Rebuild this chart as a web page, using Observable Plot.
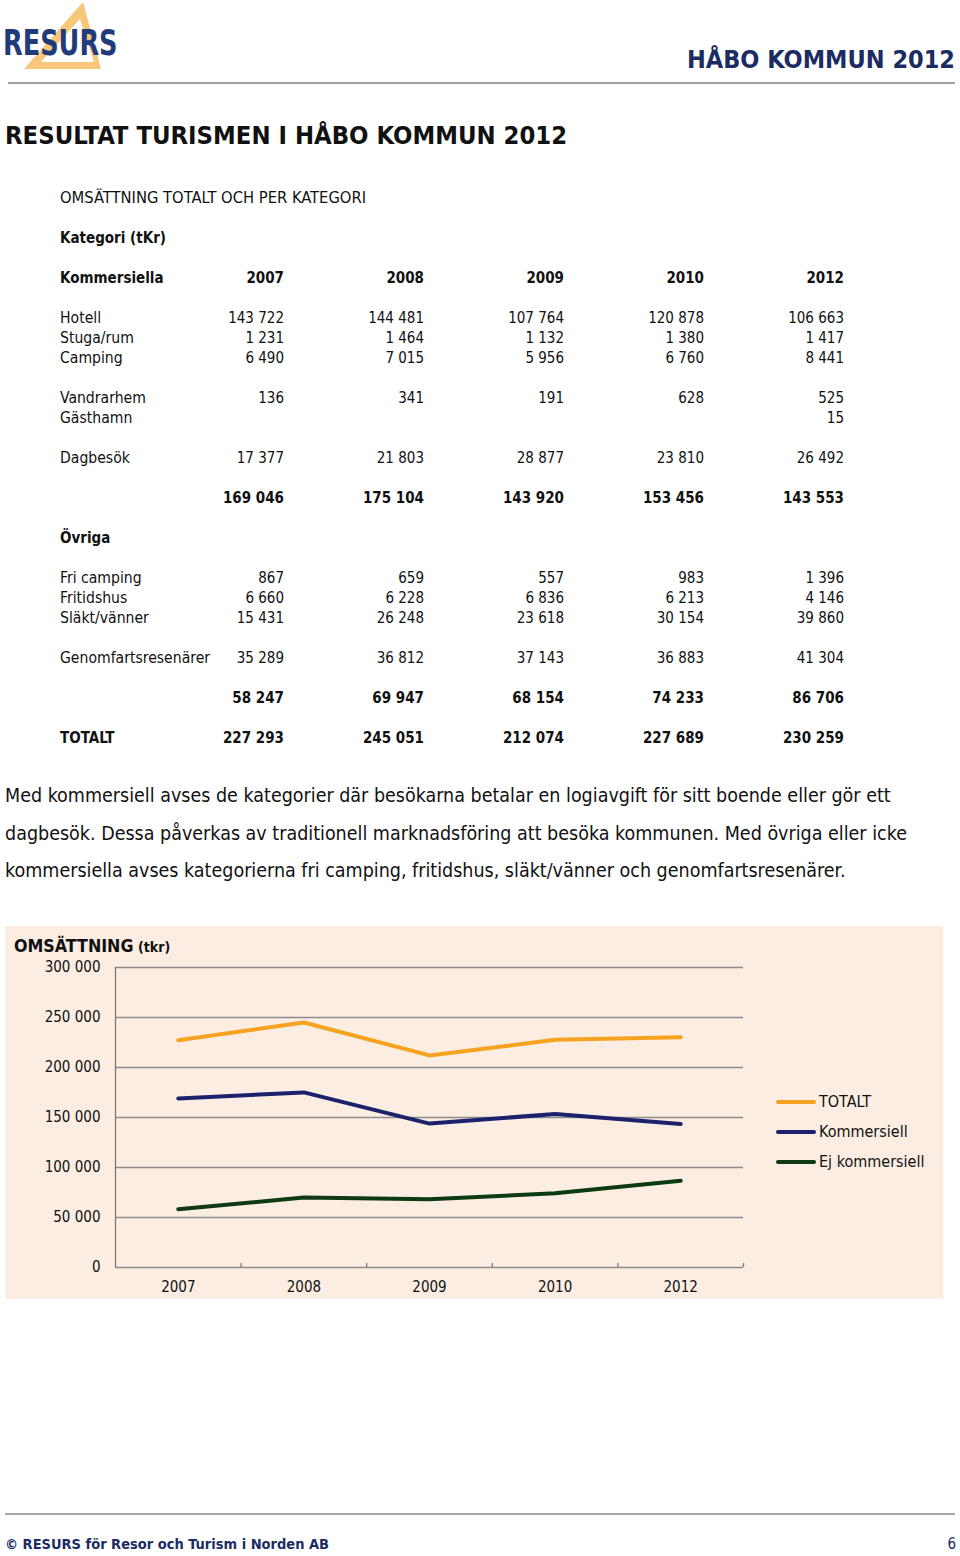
<!DOCTYPE html>
<html>
<head>
<meta charset="utf-8">
<script src="https://cdn.jsdelivr.net/npm/d3@7"></script>
<script src="https://cdn.jsdelivr.net/npm/@observablehq/plot@0.6"></script>
<style>
  html, body { margin:0; padding:0; background:#fff; }
  body { width:960px; height:1556px; position:relative; overflow:hidden;
         font-family:"DejaVu Sans Condensed","DejaVu Sans",sans-serif; color:#111; }
  .abs { position:absolute; white-space:nowrap; }
  .row { position:absolute; height:20px; line-height:20px; font-size:15px; white-space:nowrap; }
  .num { position:absolute; text-align:right; width:120px; }
  .b { font-weight:bold; }
  #panel { position:absolute; left:5px; top:926px; width:938px; height:373px; background:#fcede2; }
  .leg { position:absolute; font-size:16px; line-height:20px; height:20px; }
  .leg span.sw { position:absolute; left:0; top:8px; width:40px; height:4px; border-radius:2px; }
  .leg span.lb { position:absolute; left:43px; top:0; white-space:nowrap; }
</style>
</head>
<body>
<script>
// ---------- data ----------
const years = ["2007", "2008", "2009", "2010", "2012"];
const hotell = [143722, 144481, 107764, 120878, 106663];
const stugaRum = [1231, 1464, 1132, 1380, 1417];
const camping = [6490, 7015, 5956, 6760, 8441];
const vandrarhem = [136, 341, 191, 628, 525];
const gasthamn = [null, null, null, null, 15];
const dagbesok = [17377, 21803, 28877, 23810, 26492];
const summaKommersiell = [169046, 175104, 143920, 153456, 143553];
const friCamping = [867, 659, 557, 983, 1396];
const fritidshus = [6660, 6228, 6836, 6213, 4146];
const slaktVanner = [15431, 26248, 23618, 30154, 39860];
const genomfart = [35289, 36812, 37143, 36883, 41304];
const summaEjKommersiell = [58247, 69947, 68154, 74233, 86706];
const totalt = [227293, 245051, 212074, 227689, 230259];
const seriesNames = ["TOTALT", "Kommersiell", "Ej kommersiell"];
const seriesColors = ["#f5a21e", "#1b216b", "#0d3a12"];
const yTicks = [0, 50000, 100000, 150000, 200000, 250000, 300000];

const loc = d3.formatLocale({decimal: ",", thousands: " ", grouping: [3], currency: ["", " kr"]});
const fmt = loc.format(",d");

function abs(html, css) {
  const d = document.createElement("div");
  d.className = "abs";
  d.innerHTML = html;
  Object.assign(d.style, css);
  document.body.appendChild(d);
  return d;
}

// ---------- header ----------
const logo = document.createElementNS("http://www.w3.org/2000/svg", "svg");
logo.setAttribute("width", 130); logo.setAttribute("height", 75);
logo.style.position = "absolute"; logo.style.left = "0px"; logo.style.top = "0px";
logo.innerHTML = `<path d="M83,2 L101,69 L24,69 Z M80,19 L41,62 L94,62 Z" fill="#f8c77a" fill-rule="evenodd"/>`;
document.body.appendChild(logo);
abs("RESURS", {left:"3px", top:"22px", fontSize:"36px", fontWeight:"bold", color:"#1f3b7a", lineHeight:"42px",
               transform:"scaleX(0.79)", transformOrigin:"0 0"});

abs("HÅBO KOMMUN 2012", {right:"5px", top:"44px", fontSize:"25px", fontWeight:"bold", color:"#1b2c63", lineHeight:"32px"});
abs("", {left:"8px", top:"82px", width:"947px", height:"2px", background:"#a0a0a0"});

abs("RESULTAT TURISMEN I HÅBO KOMMUN 2012", {left:"5px", top:"118px", fontSize:"25.4px", fontWeight:"bold", lineHeight:"34px"});

// ---------- table ----------
const colRight = [284, 424, 564, 704, 844];
function row(slot, label, vals, bold, labelBold, labelSize) {
  const r = document.createElement("div");
  r.className = "row";
  r.style.top = (188 + 20 * slot) + "px";
  r.style.left = "0px"; r.style.width = "960px";
  const l = document.createElement("div");
  l.className = "num"; l.style.textAlign = "left"; l.style.left = "60px"; l.style.width = "300px";
  if (labelBold) l.classList.add("b");
  l.style.fontSize = labelSize || (labelBold ? "15px" : "15.6px");
  l.textContent = label;
  r.appendChild(l);
  if (vals) vals.forEach((v, i) => {
    if (v == null) return;
    const c = document.createElement("div");
    c.className = "num" + (bold ? " b" : "");
    c.style.left = (colRight[i] - 120) + "px";
    c.textContent = typeof v === "number" ? fmt(v) : v;
    r.appendChild(c);
  });
  document.body.appendChild(r);
}
row(0, "OMSÄTTNING TOTALT OCH PER KATEGORI", null, false, false, "16.4px");
row(2, "Kategori (tKr)", null, false, true);
row(4, "Kommersiella", years, true, true);
row(6, "Hotell", hotell);
row(7, "Stuga/rum", stugaRum);
row(8, "Camping", camping);
row(10, "Vandrarhem", vandrarhem);
row(11, "Gästhamn", gasthamn);
row(13, "Dagbesök", dagbesok);
row(15, "", summaKommersiell, true);
row(17, "Övriga", null, false, true);
row(19, "Fri camping", friCamping);
row(20, "Fritidshus", fritidshus);
row(21, "Släkt/vänner", slaktVanner);
row(23, "Genomfartsresenärer", genomfart);
row(25, "", summaEjKommersiell, true);
row(27, "TOTALT", totalt, true, true);

// ---------- paragraph ----------
const para = [
  "Med kommersiell avses de kategorier där besökarna betalar en logiavgift för sitt boende eller gör ett",
  "dagbesök. Dessa påverkas av traditionell marknadsföring att besöka kommunen. Med övriga eller icke",
  "kommersiella avses kategorierna fri camping, fritidshus, släkt/vänner och genomfartsresenärer."
];
para.forEach((t, i) => abs(t, {left:"5px", top:(784 + 37.5 * i) + "px", fontSize:"19.5px", lineHeight:"24px"}));

// ---------- chart ----------
const panel = document.createElement("div");
panel.id = "panel";
document.body.appendChild(panel);

const data = [];
[totalt, summaKommersiell, summaEjKommersiell].forEach((arr, s) =>
  arr.forEach((v, i) => data.push({i, value: v, series: seriesNames[s]})));

const chart = Plot.plot({
  width: 938, height: 373,
  marginLeft: 110, marginRight: 200, marginTop: 41, marginBottom: 32,
  style: {background: "transparent", fontFamily: "DejaVu Sans Condensed, DejaVu Sans, sans-serif", fontSize: "15px", color: "#111", overflow: "visible"},
  x: {type: "linear", domain: [0, years.length], axis: null},
  y: {domain: [0, 300000], axis: null},
  color: {domain: seriesNames, range: seriesColors},
  marks: [
    Plot.ruleY(yTicks, {stroke: "#8c8c8c", strokeWidth: 1.3}),
    Plot.ruleX([0], {stroke: "#7a7a7a", strokeWidth: 1.3}),
    Plot.ruleX(d3.range(1, years.length + 1), {y1: 0, y2: 4000, stroke: "#7a7a7a", strokeWidth: 1.3}),
    Plot.axisY({ticks: yTicks, tickSize: 0, tickPadding: 15, tickFormat: fmt, fontSize: 15, fill: "#111", label: null}),
    Plot.axisX({ticks: years.map((_, i) => i + 0.5), tickSize: 0, tickPadding: 14, tickFormat: d => years[Math.floor(d)], fontSize: 15, fill: "#111", label: null}),
    Plot.line(data, {x: d => d.i + 0.5, y: "value", z: "series", stroke: "series", strokeWidth: 4, strokeLinecap: "round", strokeLinejoin: "round"})
  ]
});
chart.style.position = "absolute"; chart.style.left = "0px"; chart.style.top = "0px";
panel.appendChild(chart);

const title = document.createElement("div");
title.className = "abs";
title.style.left = "9px"; title.style.top = "8px"; title.style.lineHeight = "24px";
title.innerHTML = `<span style="font-size:17.7px;font-weight:bold">OMSÄTTNING</span> <span style="font-size:14px;font-weight:bold">(tkr)</span>`;
panel.appendChild(title);

seriesNames.forEach((n, k) => {
  const lg = document.createElement("div");
  lg.className = "leg";
  lg.style.left = "771px"; lg.style.top = (166 + 30 * k) + "px";
  lg.innerHTML = `<span class="sw" style="background:${seriesColors[k]}"></span><span class="lb">${n}</span>`;
  panel.appendChild(lg);
});

// ---------- footer ----------
abs("", {left:"5px", top:"1513px", width:"950px", height:"2px", background:"#a8a8a8"});
abs("© RESURS för Resor och Turism i Norden AB", {left:"5px", top:"1534px", fontSize:"14.5px", fontWeight:"bold", color:"#1b2c63", lineHeight:"20px"});
abs("6", {right:"4px", top:"1534px", fontSize:"15px", color:"#1b2c63", lineHeight:"20px"});
</script>
</body>
</html>
